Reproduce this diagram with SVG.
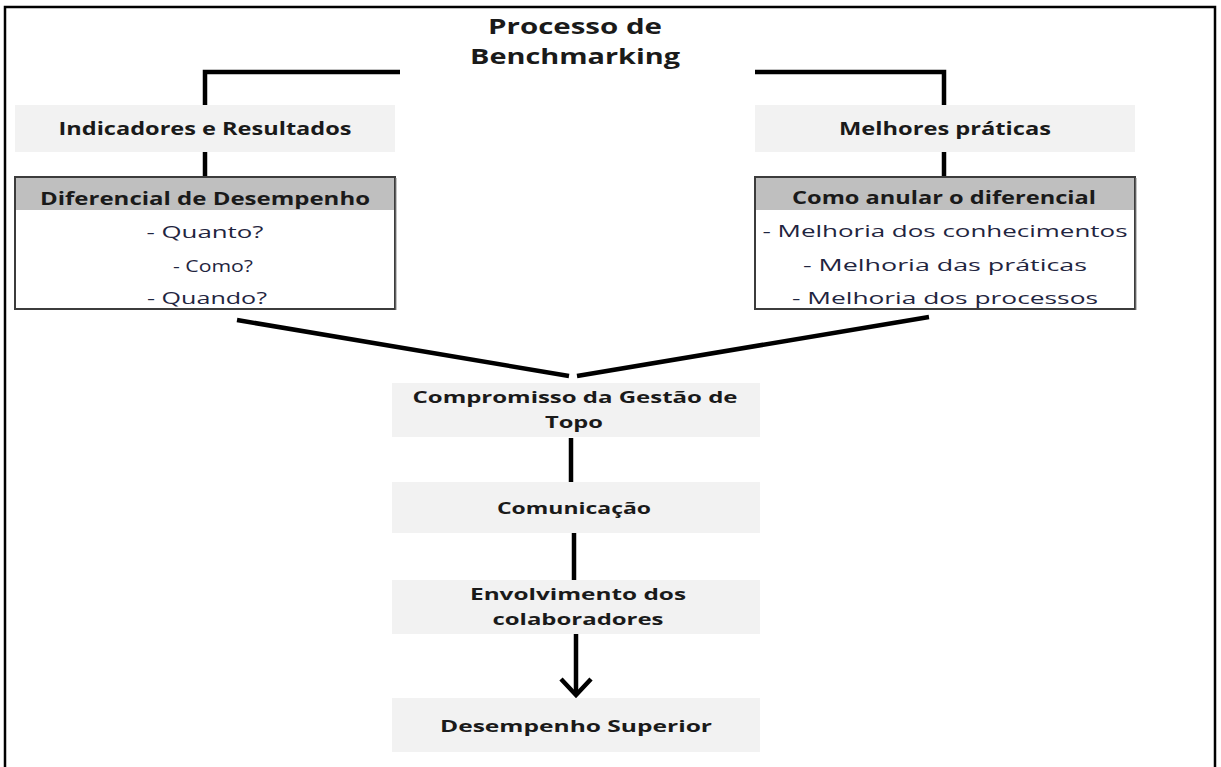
<svg xmlns="http://www.w3.org/2000/svg" width="1221" height="767" viewBox="0 0 1221 767">
<style>
.t{font-family:"Open Sans","Liberation Sans",sans-serif;font-weight:700;fill:#1a1a1a;text-anchor:middle}
.b{font-family:"Open Sans","Liberation Sans",sans-serif;font-weight:400;fill:#1f2540;text-anchor:middle}
.lb{fill:#f2f2f2}
.hd{fill:#bfbfbf}
.bx{fill:none;stroke:#3c3c3c;stroke-width:2}
.c{stroke:#000;stroke-width:4.5;fill:none}
</style>
<rect width="1221" height="767" fill="#fff"/>
<path d="M5,780 V7 H1215 V780" fill="none" stroke="#000" stroke-width="2.5"/>

<g id="connectors">
<path class="c" d="M400,72 H205 V105"/>
<path class="c" d="M755,72 H944 V105"/>
<path class="c" d="M205,152 V177"/>
<path class="c" d="M944,152 V177"/>
<path class="c" d="M237,320 L569,376"/>
<path class="c" d="M929,317 L577,376"/>
<path class="c" d="M571,438 V482"/>
<path class="c" d="M574,533 V580"/>
<path class="c" d="M576,634 V694"/>
<path class="c" stroke-width="5" d="M561,679 L576,695 L591,679"/>
</g>

<g id="title">
<text class="t" x="575" y="34" font-size="21" textLength="174" lengthAdjust="spacingAndGlyphs">Processo de</text>
<text class="t" x="575" y="64" font-size="21" textLength="210" lengthAdjust="spacingAndGlyphs">Benchmarking</text>
</g>

<g id="indicadores">
<rect class="lb" x="15" y="105" width="380" height="47"/>
<text class="t" x="205" y="135" font-size="17" textLength="293" lengthAdjust="spacingAndGlyphs">Indicadores e Resultados</text>
</g>

<g id="melhores">
<rect class="lb" x="755" y="105" width="380" height="47"/>
<text class="t" x="945" y="135" font-size="17" textLength="212" lengthAdjust="spacingAndGlyphs">Melhores práticas</text>
</g>

<g id="diferencial">
<rect x="15" y="177" width="380" height="132" fill="#fff"/>
<rect class="hd" x="15" y="177" width="380" height="33"/>
<rect class="bx" x="15" y="177" width="380" height="132"/>
<line x1="396" y1="178" x2="396" y2="310" stroke="#888" stroke-width="1"/>
<text class="t" x="205" y="205" font-size="17" textLength="330" lengthAdjust="spacingAndGlyphs">Diferencial de Desempenho</text>
<text class="b" x="205" y="238" font-size="16" textLength="117" lengthAdjust="spacingAndGlyphs">- Quanto?</text>
<text class="b" x="213" y="272" font-size="16" textLength="80" lengthAdjust="spacingAndGlyphs">- Como?</text>
<text class="b" x="207" y="304" font-size="16" textLength="120" lengthAdjust="spacingAndGlyphs">- Quando?</text>
</g>

<g id="anular">
<rect x="755" y="177" width="380" height="132" fill="#fff"/>
<rect class="hd" x="755" y="177" width="380" height="33"/>
<rect class="bx" x="755" y="177" width="380" height="132"/>
<line x1="1136" y1="178" x2="1136" y2="310" stroke="#888" stroke-width="1"/>
<text class="t" x="944" y="204" font-size="17" textLength="304" lengthAdjust="spacingAndGlyphs">Como anular o diferencial</text>
<text class="b" x="945" y="237" font-size="16" textLength="365" lengthAdjust="spacingAndGlyphs">- Melhoria dos conhecimentos</text>
<text class="b" x="945" y="271" font-size="16" textLength="284" lengthAdjust="spacingAndGlyphs">- Melhoria das práticas</text>
<text class="b" x="945" y="304" font-size="16" textLength="306" lengthAdjust="spacingAndGlyphs">- Melhoria dos processos</text>
</g>

<g id="compromisso">
<rect class="lb" x="392" y="383" width="368" height="54"/>
<text class="t" x="575" y="403" font-size="16" textLength="325" lengthAdjust="spacingAndGlyphs">Compromisso da Gestão de</text>
<text class="t" x="574" y="428" font-size="16" textLength="58" lengthAdjust="spacingAndGlyphs">Topo</text>
</g>

<g id="comunicacao">
<rect class="lb" x="392" y="482" width="368" height="51"/>
<text class="t" x="574" y="514" font-size="16" textLength="154" lengthAdjust="spacingAndGlyphs">Comunicação</text>
</g>

<g id="envolvimento">
<rect class="lb" x="392" y="580" width="368" height="54"/>
<text class="t" x="578" y="600" font-size="16" textLength="216" lengthAdjust="spacingAndGlyphs">Envolvimento dos</text>
<text class="t" x="578" y="625" font-size="16" textLength="171" lengthAdjust="spacingAndGlyphs">colaboradores</text>
</g>

<g id="desempenho">
<rect class="lb" x="392" y="698" width="368" height="54"/>
<text class="t" x="576" y="732" font-size="16" textLength="272" lengthAdjust="spacingAndGlyphs">Desempenho Superior</text>
</g>
</svg>
